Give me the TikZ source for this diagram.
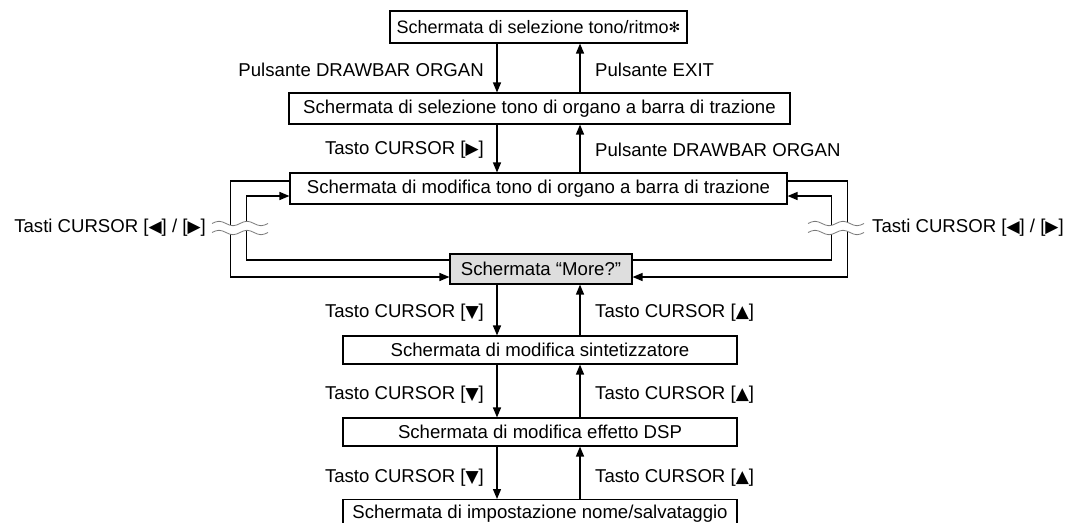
\documentclass[tikz,border=0pt]{standalone}
\usepackage{fontspec}
\setmainfont{Liberation Sans}
\newfontfamily\dejavu{DejaVu Sans}
\usetikzlibrary{arrows.meta}
\definecolor{boxgray}{RGB}{222,222,222}
\definecolor{wavegray}{RGB}{120,120,120}
\newcommand\symb[1]{{\dejavu\fontsize{17}{21}\selectfont #1}}
\newcommand\astk{{\dejavu\fontsize{14}{18}\selectfont\raisebox{1pt}{✻}}}
\begin{document}
\begin{tikzpicture}[x=1pt,y=-1pt,
  scrbox/.style={draw=black, line width=1.1pt, inner sep=0pt, minimum height=#1},
  scrbox/.default=30pt,
  arr/.style={line width=1.4pt, -{Triangle[length=10pt,width=8pt]}},
  lbl/.style={inner sep=0pt},
  wave/.style={draw=wavegray, line width=0.8pt},
  every node/.append style={font=\fontsize{18.6}{22}\selectfont}
]
\useasboundingbox (0,0) rectangle (1070,522);

% boxes
\node[scrbox=32pt, minimum width=297pt, font=\fontsize{18}{22}\selectfont] (b1) at (538.5,27) {Schermata di selezione tono/ritmo\astk};
\node[scrbox=31pt, minimum width=501pt] (b2) at (539.5,108.5) {Schermata di selezione tono di organo a barra di trazione};
\node[scrbox=31pt, minimum width=497pt] (b3) at (538.5,188.5) {Schermata di modifica tono di organo a barra di trazione};
\node[scrbox=30pt, minimum width=182pt, fill=boxgray] (b4) at (541,269) {Schermata “More?”};
\node[scrbox=28pt, minimum width=394pt] (b5) at (540,350) {Schermata di modifica sintetizzatore};
\node[scrbox=28pt, minimum width=394pt] (b6) at (540,432) {Schermata di modifica effetto DSP};
\node[scrbox=28pt, minimum width=394pt, anchor=north] (b7) at (540,499) {Schermata di impostazione nome/salvataggio};

% vertical connector columns
\coordinate (dn) at (497,0);
\coordinate (up) at (580,0);

\draw[arr] (b1.south -| dn) -- (b2.north -| dn);
\draw[arr] (b2.north -| up) -- (b1.south -| up);
\draw[arr] (b2.south -| dn) -- (b3.north -| dn);
\draw[arr] (b3.north -| up) -- (b2.south -| up);
\draw[arr] (b4.south -| dn) -- (b5.north -| dn);
\draw[arr] (b5.north -| up) -- (b4.south -| up);
\draw[arr] (b5.south -| dn) -- (b6.north -| dn);
\draw[arr] (b6.north -| up) -- (b5.south -| up);
\draw[arr] (b6.south -| dn) -- (b7.north -| dn);
\draw[arr] (b7.north -| up) -- (b6.south -| up);

% labels
\node[lbl, anchor=east] (l1) at (484,70) {Pulsante DRAWBAR ORGAN};
\node[lbl, anchor=west] (r1) at (595,70) {Pulsante EXIT};
\node[lbl, anchor=east] (l2) at (484,150) {Tasto CURSOR [\symb{▶}]};
\node[lbl, anchor=west] (r2) at (595,150) {Pulsante DRAWBAR ORGAN};
\node[lbl, anchor=east] (l3) at (484,313) {Tasto CURSOR [\symb{▼}]};
\node[lbl, anchor=west] (r3) at (595,313) {Tasto CURSOR [\symb{▲}]};
\node[lbl, anchor=east] (l4) at (484,395) {Tasto CURSOR [\symb{▼}]};
\node[lbl, anchor=west] (r4) at (595,395) {Tasto CURSOR [\symb{▲}]};
\node[lbl, anchor=east] (l5) at (484,478) {Tasto CURSOR [\symb{▼}]};
\node[lbl, anchor=west] (r5) at (595,478) {Tasto CURSOR [\symb{▲}]};
\node[lbl, anchor=east] (lc) at (206,228) {Tasti CURSOR [\symb{◀}] / [\symb{▶}]};
\node[lbl, anchor=west] (rc) at (872,228) {Tasti CURSOR [\symb{◀}] / [\symb{▶}]};

% side loops
\draw[arr] ([yshift=7.5pt]b3.west) -- ++(-59,0) |- ([yshift=-8pt]b4.west);
\draw[arr] ([yshift=9pt]b4.west) -- ++(-203,0) |- ([yshift=-7.5pt]b3.west);
\draw[arr] ([yshift=7.5pt]b3.east) -- ++(60,0) |- ([yshift=-8pt]b4.east);
\draw[arr] ([yshift=9pt]b4.east) -- ++(199,0) |- ([yshift=-7.5pt]b3.east);

% break marks
\foreach \xo in {212,808}{
  \fill[white] (\xo,223.5) sin ++(7,-2.2) cos ++(7,2.2) sin ++(7,2.2) cos ++(7,-2.2)
      sin ++(7,-2.2) cos ++(7,2.2) sin ++(7,2.2) cos ++(7,-2.2)
      -- ++(0,9)
      sin ++(-7,2.2) cos ++(-7,-2.2) sin ++(-7,-2.2) cos ++(-7,2.2)
      sin ++(-7,2.2) cos ++(-7,-2.2) sin ++(-7,-2.2) cos ++(-7,2.2) -- cycle;
  \draw[wave] (\xo,223.5) sin ++(7,-2.2) cos ++(7,2.2) sin ++(7,2.2) cos ++(7,-2.2)
      sin ++(7,-2.2) cos ++(7,2.2) sin ++(7,2.2) cos ++(7,-2.2);
  \draw[wave] (\xo,232.5) sin ++(7,-2.2) cos ++(7,2.2) sin ++(7,2.2) cos ++(7,-2.2)
      sin ++(7,-2.2) cos ++(7,2.2) sin ++(7,2.2) cos ++(7,-2.2);
}
\end{tikzpicture}
\end{document}
